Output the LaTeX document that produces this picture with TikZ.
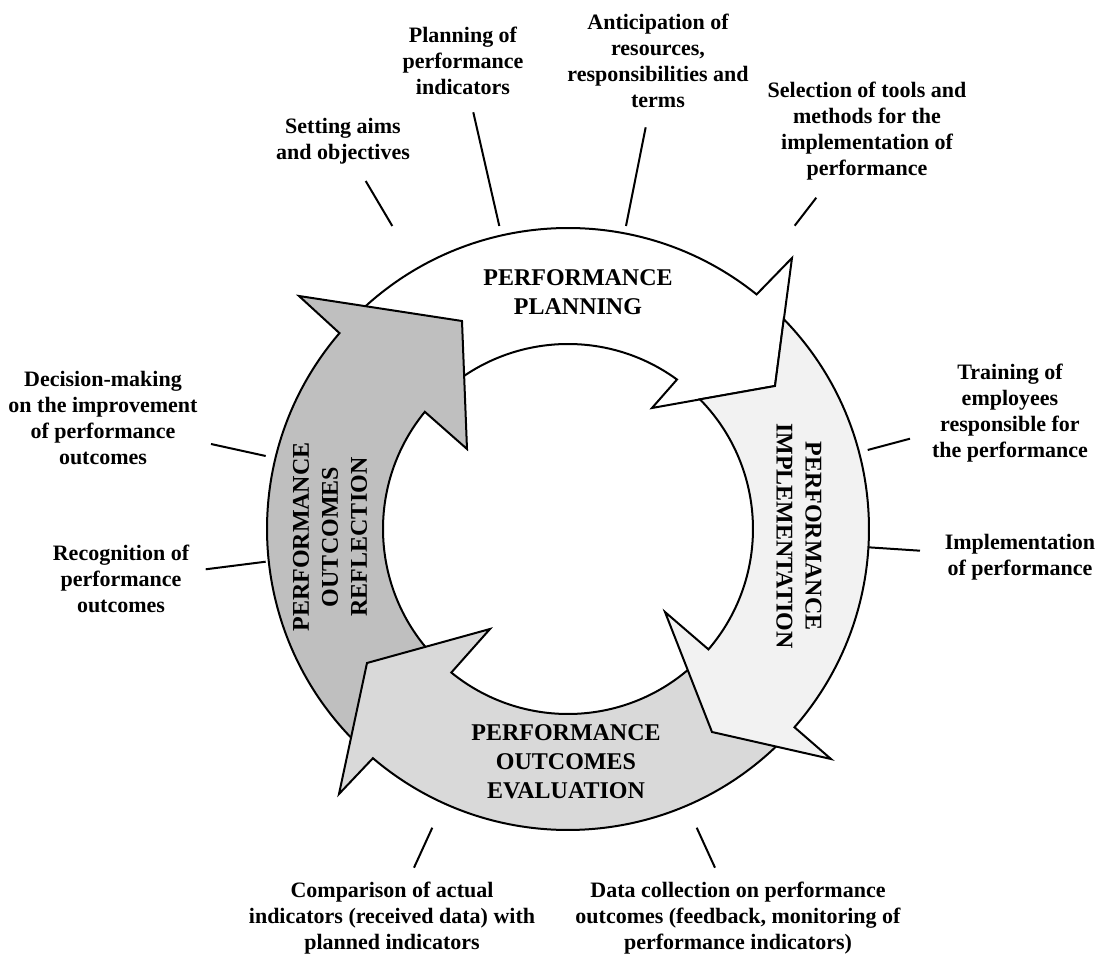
\documentclass[tikz,border=0pt]{standalone}
\usepackage{fontspec}
\setmainfont{Liberation Serif}
\usepackage{tikz}
\definecolor{plan}{RGB}{255, 255, 255}
\definecolor{impl}{RGB}{242, 242, 242}
\definecolor{evalc}{RGB}{217, 217, 217}
\definecolor{refl}{RGB}{191, 191, 191}

\begin{document}
\begin{tikzpicture}[x=1pt, y=1pt,
  band/.style={draw=black, line width=2pt, line join=miter},
  big/.style={align=center, inner sep=0pt, font=\fontsize{24}{29}\selectfont\bfseries},
  lbl/.style={align=center, inner sep=0pt, font=\fontsize{22}{26}\selectfont\bfseries},
  tick/.style={line width=2pt, color=black}]
\useasboundingbox (-568,-426) rectangle (530,529);

% the four curved arrows
\draw [band, fill=plan] (137:301) arc[start angle=137, end angle=51.2, radius=301] -- (224,271) -- (207,143) -- (84,121) -- (53.9:185) arc[start angle=53.9, end angle=137, radius=185] -- cycle;
\draw [band, fill=refl] (227:301) arc[start angle=227, end angle=139.4, radius=301] -- (-269,233) -- (-106,208) -- (-101,80) -- (140.7:185) arc[start angle=140.7, end angle=227, radius=185] -- cycle;
\draw [band, fill=evalc] (-42.5:301) arc[start angle=-42.5, end angle=-130.4, radius=301] -- (-229,-265) -- (-201,-134) -- (-78,-100) -- (-129.1:185) arc[start angle=-129.1, end angle=-42.5, radius=185] -- cycle;
\draw [band, fill=impl] (44.2:301) arc[start angle=44.2, end angle=-41.2, radius=301] -- (263,-230) -- (144,-203) -- (97,-83) -- (-40.6:185) arc[start angle=-40.6, end angle=44.5, radius=185] -- (207,143) -- cycle;

% stage names
\node (plan) [big] at (10,237) {PERFORMANCE\\PLANNING};
\node (impl) [big, rotate=-90] at (231,-7) {PERFORMANCE\\IMPLEMENTATION};
\node (eval) [big] at (-2,-233) {PERFORMANCE\\OUTCOMES\\EVALUATION};
\node (refl) [big, rotate=90] at (-238,-8) {PERFORMANCE\\OUTCOMES\\REFLECTION};

% activities
\node (aims) [lbl] at (-225,388) {Setting aims\\and objectives};
\node (indic) [lbl] at (-105,468) {Planning of\\performance\\indicators};
\node (resrc) [lbl] at (90,468) {Anticipation of\\resources,\\responsibilities and\\terms};
\node (tools) [lbl] at (299,398) {Selection of tools and\\methods for the\\implementation of\\performance};
\node (train) [lbl] at (442,116) {Training of\\employees\\responsible for\\the performance};
\node (implp) [lbl] at (452,-28) {Implementation\\of performance};
\node (decis) [lbl] at (-465,111) {Decision-making\\on the improvement\\of performance\\outcomes};
\node (recog) [lbl] at (-447,-50) {Recognition of\\performance\\outcomes};
\node (compr) [lbl] at (-176,-389) {Comparison of actual\\indicators (received data) with\\planned indicators};
\node (datac) [lbl] at (170,-389) {Data collection on performance\\outcomes (feedback, monitoring of\\performance indicators)};

% ticks
\coordinate (aims1) at (-202.3,348);
\coordinate (aims2) at (-175.7,303);
\coordinate (indic1) at (-94.7,416.7);
\coordinate (indic2) at (-68.7,303);
\coordinate (resrc1) at (77.7,401.7);
\coordinate (resrc2) at (58,303);
\coordinate (tools1) at (248.3,331.3);
\coordinate (tools2) at (226.7,303.3);
\coordinate (train1) at (342,90.3);
\coordinate (train2) at (299.7,79);
\coordinate (implp1) at (352,-21.7);
\coordinate (implp2) at (300.3,-18.3);
\coordinate (decis1) at (-357,85);
\coordinate (decis2) at (-302.3,73);
\coordinate (recog1) at (-362.3,-40.3);
\coordinate (recog2) at (-302.3,-32.7);
\coordinate (compr1) at (-135.7,-298.7);
\coordinate (compr2) at (-154,-338.7);
\coordinate (datac1) at (128.7,-298.7);
\coordinate (datac2) at (147,-338.7);
\draw [tick] (aims1) -- (aims2);
\draw [tick] (indic1) -- (indic2);
\draw [tick] (resrc1) -- (resrc2);
\draw [tick] (tools1) -- (tools2);
\draw [tick] (train1) -- (train2);
\draw [tick] (implp1) -- (implp2);
\draw [tick] (decis1) -- (decis2);
\draw [tick] (recog1) -- (recog2);
\draw [tick] (compr1) -- (compr2);
\draw [tick] (datac1) -- (datac2);
\end{tikzpicture}
\end{document}
